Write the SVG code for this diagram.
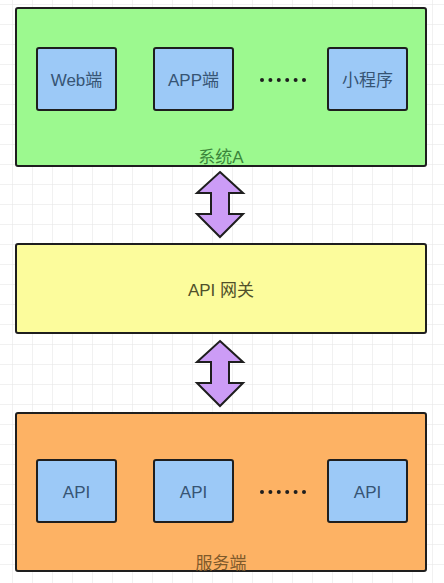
<svg xmlns="http://www.w3.org/2000/svg" width="444" height="583" viewBox="0 0 444 583">
<defs>
<pattern id="grid" x="12" y="4" width="20" height="20" patternUnits="userSpaceOnUse">
<path d="M0 0 H20 M0 0 V20" fill="none" stroke="#e4e4e4" stroke-width="1"/>
</pattern>
<style>
.box{stroke:#1e1e1e;stroke-width:2;}
.green{fill:#9cf98f;}
.yellow{fill:#fcfc9c;}
.orange{fill:#fdb264;}
.blue{fill:#9cc9f7;}
.arrow{fill:#cc9cf6;stroke:#1e1e1e;stroke-width:2;stroke-linejoin:miter;}
text{font-family:"Liberation Sans","Noto Sans CJK SC",sans-serif;font-size:17px;text-anchor:middle;}
.t-blue{fill:#365474;}
.t-yellow{fill:#50502a;}
.t-green{fill:#3a863a;}
.t-orange{fill:#7f5a2b;}
.dot{fill:#1e1e1e;}
</style>
</defs>
<rect x="0" y="0" width="444" height="583" fill="#ffffff"/>
<rect x="0" y="0" width="444" height="583" fill="url(#grid)"/>

<g id="systemA">
<rect class="box green" x="16" y="8" width="410" height="158" rx="2"/>
<text class="t-green" x="221" y="163">系统A</text>
</g>
<g id="web">
<rect class="box blue" x="37" y="48" width="79" height="62" rx="2"/>
<text class="t-blue" x="76.5" y="86">Web端</text>
</g>
<g id="app">
<rect class="box blue" x="154" y="48" width="79" height="62" rx="2"/>
<text class="t-blue" x="193.5" y="86">APP端</text>
</g>
<g id="dots-top">
<circle class="dot" cx="262" cy="80" r="2"/>
<circle class="dot" cx="270.4" cy="80" r="2"/>
<circle class="dot" cx="278.8" cy="80" r="2"/>
<circle class="dot" cx="287.2" cy="80" r="2"/>
<circle class="dot" cx="295.6" cy="80" r="2"/>
<circle class="dot" cx="304" cy="80" r="2"/>
</g>
<g id="miniapp">
<rect class="box blue" x="328" y="48" width="79" height="62" rx="2"/>
<text class="t-blue" x="367.5" y="86">小程序</text>
</g>

<g id="gateway">
<rect class="box yellow" x="16" y="244" width="410" height="89" rx="2"/>
<text class="t-yellow" x="221" y="296">API 网关</text>
</g>

<g id="server">
<rect class="box orange" x="16" y="413" width="410" height="158" rx="2"/>
<text class="t-orange" x="221" y="569">服务端</text>
</g>
<g id="api1">
<rect class="box blue" x="37" y="460" width="79" height="62" rx="2"/>
<text class="t-blue" x="76.5" y="498">API</text>
</g>
<g id="api2">
<rect class="box blue" x="154" y="460" width="79" height="62" rx="2"/>
<text class="t-blue" x="193.5" y="498">API</text>
</g>
<g id="dots-bottom">
<circle class="dot" cx="262" cy="492" r="2"/>
<circle class="dot" cx="270.4" cy="492" r="2"/>
<circle class="dot" cx="278.8" cy="492" r="2"/>
<circle class="dot" cx="287.2" cy="492" r="2"/>
<circle class="dot" cx="295.6" cy="492" r="2"/>
<circle class="dot" cx="304" cy="492" r="2"/>
</g>
<g id="api3">
<rect class="box blue" x="328" y="460" width="79" height="62" rx="2"/>
<text class="t-blue" x="367.5" y="498">API</text>
</g>

<g id="connectors">
<polygon class="arrow" points="220,172 243,193 229,193 229,214 243,214 220,237 197,214 211,214 211,193 197,193"/>
<polygon class="arrow" points="220,341 243,362 229,362 229,383 243,383 220,406 197,383 211,383 211,362 197,362"/>
</g>
</svg>
